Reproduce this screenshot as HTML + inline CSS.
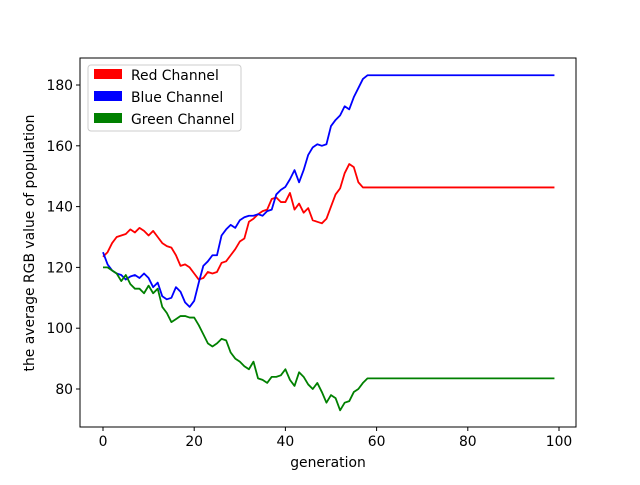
<!DOCTYPE html>
<html><head><meta charset="utf-8"><style>
body{margin:0;background:#fff;width:640px;height:480px;overflow:hidden}
svg text{font-family:"DejaVu Sans","Liberation Sans",sans-serif;font-size:13.9px;fill:#000}
</style></head><body>
<svg id="chart" width="640" height="480" viewBox="0 0 640 480">
<rect width="640" height="480" fill="#fff"/>
<g id="ticks"></g><g id="lines"></g>
<rect x="80" y="58" width="496" height="369" fill="none" stroke="#000" stroke-width="1"/>
<text x="328" y="467" text-anchor="middle">generation</text>
<text transform="translate(34,243) rotate(-90)" text-anchor="middle">the average RGB value of population</text>
<g>
<rect x="88" y="65" width="153" height="66" rx="3" fill="#fff" fill-opacity="0.8" stroke="#ccc"/>
<rect x="94" y="69" width="28" height="10" fill="red"/>
<text x="131" y="80">Red Channel</text>
<rect x="94" y="91" width="28" height="10" fill="blue"/>
<text x="131" y="102">Blue Channel</text>
<rect x="94" y="113" width="28" height="10" fill="green"/>
<text x="131" y="124">Green Channel</text>
</g>
</svg>
<script>
const xTicks=[0,20,40,60,80,100];
const yTicks=[80,100,120,140,160,180];
const redHead=[123.5,125,128,130,130.5,131,132.5,131.5,133,132,130.5,132,130,128,127,126.5,124,120.5,121,120,118,116,116.5,118.5,118,118.5,121.5,122,124,126,128.5,129.5,135,136,137.5,138.5,139,142.5,143,141.5,141.5,144.5,139,141,138,139.5,135.5,135,134.5,136,140,144,146,151,154,153,148,146.3];
const blueHead=[125,121,119,118,117.5,116,117,117.5,116.5,118,116.5,113.5,115,110.5,109.5,110,113.5,112,108.5,107,109,115,120.5,122,124,124,130.5,132.5,134,133,135.5,136.5,137,137,137.5,137,138.5,139,144,145.5,146.5,149,152,148,152,157,159.5,160.5,160,160.5,166.5,168.5,170,173,172,176,179,182,183.2];
const greenHead=[120,120,119,118,115.5,117.5,114.5,113,113,111.5,114,111.5,113,107,105,102,103,104,104,103.5,103.5,101,98,95,94,95,96.5,96,92,90,89,87.5,86.5,89,83.5,83,82,84,84,84.5,86.5,83,81,85.5,84,81.5,80,82,79,75.5,78,77,73,75.5,76,79,80,82,83.5];
const N=100;
function pad(a){const r=a.slice();while(r.length<N)r.push(a[a.length-1]);return r;}
const red=pad(redHead),blue=pad(blueHead),green=pad(greenHead);
const X=v=>103+v*4.56, Y=v=>389-(v-80)*3.04;
const NS="http://www.w3.org/2000/svg";
const tg=document.getElementById('ticks'), lg=document.getElementById('lines');
function el(t,a,p){const e=document.createElementNS(NS,t);for(const k in a)e.setAttribute(k,a[k]);p.appendChild(e);return e;}
xTicks.forEach(v=>{
 const l=el('line',{x1:X(v),x2:X(v),y1:427,y2:431,stroke:'#000'},tg);
 
 
 const t=el('text',{x:X(v),y:446,'text-anchor':'middle'},tg);t.textContent=v;
 
 
});
yTicks.forEach(v=>{
 const l=el('line',{x1:76,x2:80,y1:Y(v),y2:Y(v),stroke:'#000'},tg);
 
 
 const t=el('text',{x:73,y:Y(v)+5,'text-anchor':'end'},tg);t.textContent=v;
 
 
});
[[red,'red','red-line'],[blue,'blue','blue-line'],[green,'green','green-line']].forEach(([d,c,n])=>{
 const p=el('polyline',{points:d.map((v,i)=>X(i)+','+Y(v)).join(' '),fill:'none',stroke:c,'stroke-width':1.8,'stroke-linejoin':'round'},lg);
 
 
});
</script>
</body></html>
